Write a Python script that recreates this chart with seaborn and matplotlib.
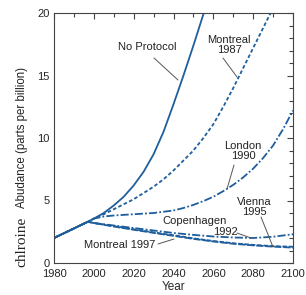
import matplotlib
matplotlib.use("Agg")
import matplotlib.pyplot as plt
import seaborn as sns
import pandas as pd
from matplotlib.ticker import MultipleLocator

# Chlorine abundance projections (ppb)
yrs_np = [1980, 1997, 2000, 2005, 2010, 2015, 2020, 2025, 2030, 2035, 2040, 2045, 2050, 2055, 2060]
no_protocol = [2.0, 3.3, 3.55, 4.0, 4.6, 5.3, 6.2, 7.3, 8.7, 10.5, 12.7, 15.0, 17.4, 19.9, 22.3]

yrs_m87 = [1980, 1997, 2000, 2005, 2010, 2015, 2020, 2025, 2030, 2035, 2040, 2045, 2050,
           2055, 2060, 2065, 2070, 2075, 2080, 2085, 2090]
montreal_1987 = [2.0, 3.3, 3.55, 3.9, 4.3, 4.7, 5.1, 5.6, 6.1, 6.7, 7.4, 8.2, 9.0,
                 10.0, 11.1, 12.5, 14.0, 15.6, 17.2, 18.8, 20.4]

yrs_lon = [1980, 1997, 2000, 2005, 2010, 2020, 2030, 2040, 2045, 2050, 2055, 2060, 2065,
           2070, 2075, 2080, 2085, 2090, 2095, 2100]
london_1990 = [2.0, 3.3, 3.55, 3.72, 3.8, 3.9, 4.0, 4.2, 4.4, 4.65, 4.95, 5.3, 5.75,
               6.25, 6.85, 7.55, 8.4, 9.4, 10.7, 12.2]

yrs_low = [1980, 1997, 2000, 2010, 2020, 2030, 2040, 2050, 2060, 2070, 2080, 2090, 2100]
copenhagen_1992 = [2.0, 3.3, 3.2, 3.0, 2.8, 2.6, 2.4, 2.25, 2.12, 2.04, 2.0, 2.1, 2.3]
vienna_1995 = [2.0, 3.3, 3.2, 2.95, 2.7, 2.45, 2.22, 1.97, 1.76, 1.58, 1.45, 1.35, 1.3]
montreal_1997 = [2.0, 3.3, 3.2, 2.92, 2.66, 2.41, 2.17, 1.93, 1.72, 1.54, 1.41, 1.31, 1.23]

blue = "#1f5e9c"

sns.set_style("white")
plt.rcParams['font.family'] = ['Liberation Sans', 'DejaVu Sans']

fig = plt.figure(figsize=(3.06, 2.95), dpi=100)
ax = fig.add_axes([54 / 306, 32 / 295, 239 / 306, 250 / 295])

series = [
    (yrs_np, no_protocol, '-'),
    (yrs_m87, montreal_1987, (0, (2.0, 1.3))),
    (yrs_lon, london_1990, (0, (4.5, 1.2, 1.0, 1.2))),
    (yrs_low, copenhagen_1992, (0, (4.5, 1.2, 1.0, 1.2))),
    (yrs_low, vienna_1995, (0, (2.5, 1.0))),
    (yrs_low, montreal_1997, (0, (4.0, 1.0))),
]
for xs, ys, ls in series:
    df = pd.DataFrame({"Year": xs, "Cl": ys})
    sns.lineplot(data=df, x="Year", y="Cl", ax=ax, color=blue, lw=1.3,
                 linestyle=ls, estimator=None)

ax.set_xlim(1980, 2100)
ax.set_ylim(0, 20)
ax.xaxis.set_major_locator(MultipleLocator(20))
ax.xaxis.set_minor_locator(MultipleLocator(10))
ax.yaxis.set_major_locator(MultipleLocator(5))
ax.yaxis.set_minor_locator(MultipleLocator(1))
ax.tick_params(which='both', direction='in', top=True, right=True,
               color='#444444', width=0.8, labelsize=8, pad=3)
ax.tick_params(axis='x', which='major', pad=4.5)
ax.tick_params(which='major', length=4.5)
ax.tick_params(which='minor', length=3)
for s in ax.spines.values():
    s.set_color('#444444')
    s.set_linewidth(0.8)

ax.set_xlabel("Year", fontsize=8.5, labelpad=1)
ax.set_ylabel("")
fig.text(22 / 306, 1 - 137 / 295, "Abudance (parts per billion)", rotation=90,
         ha='center', va='center', fontsize=8.3, color='#222222')
fig.text(22 / 306, 1 - 242 / 295, "chlroine", rotation=90, ha='center',
         va='center', fontsize=11, family=['Liberation Serif', 'DejaVu Serif'],
         color='#222222')


def px(x, y):
    return 1980 + (x - 54) / 239 * 120, (263 - y) / 12.5


def label(x, y, s):
    ax.text(*px(x, y), s, ha='center', va='center', fontsize=8,
            linespacing=1.0, color='#222222')


def leader(x0, y0, x1, y1):
    a, b = px(x0, y0), px(x1, y1)
    ax.plot([a[0], b[0]], [a[1], b[1]], color='#555555', lw=0.7)


label(147, 47, "No Protocol")
leader(154, 58, 178, 80)
label(229, 45, "Montreal\n1987")
leader(223, 58, 237, 77)
label(243, 151, "London\n1990")
leader(234, 165, 227, 189)
label(254, 207, "Vienna\n1995")
leader(261, 217, 273, 247)
label(195, 221, "Copenhagen")
label(225, 232, "1992")
leader(237, 233, 251, 238)
label(120, 245, "Montreal 1997")
leader(158, 244, 174, 239)

fig.savefig("out.png", dpi=100)
